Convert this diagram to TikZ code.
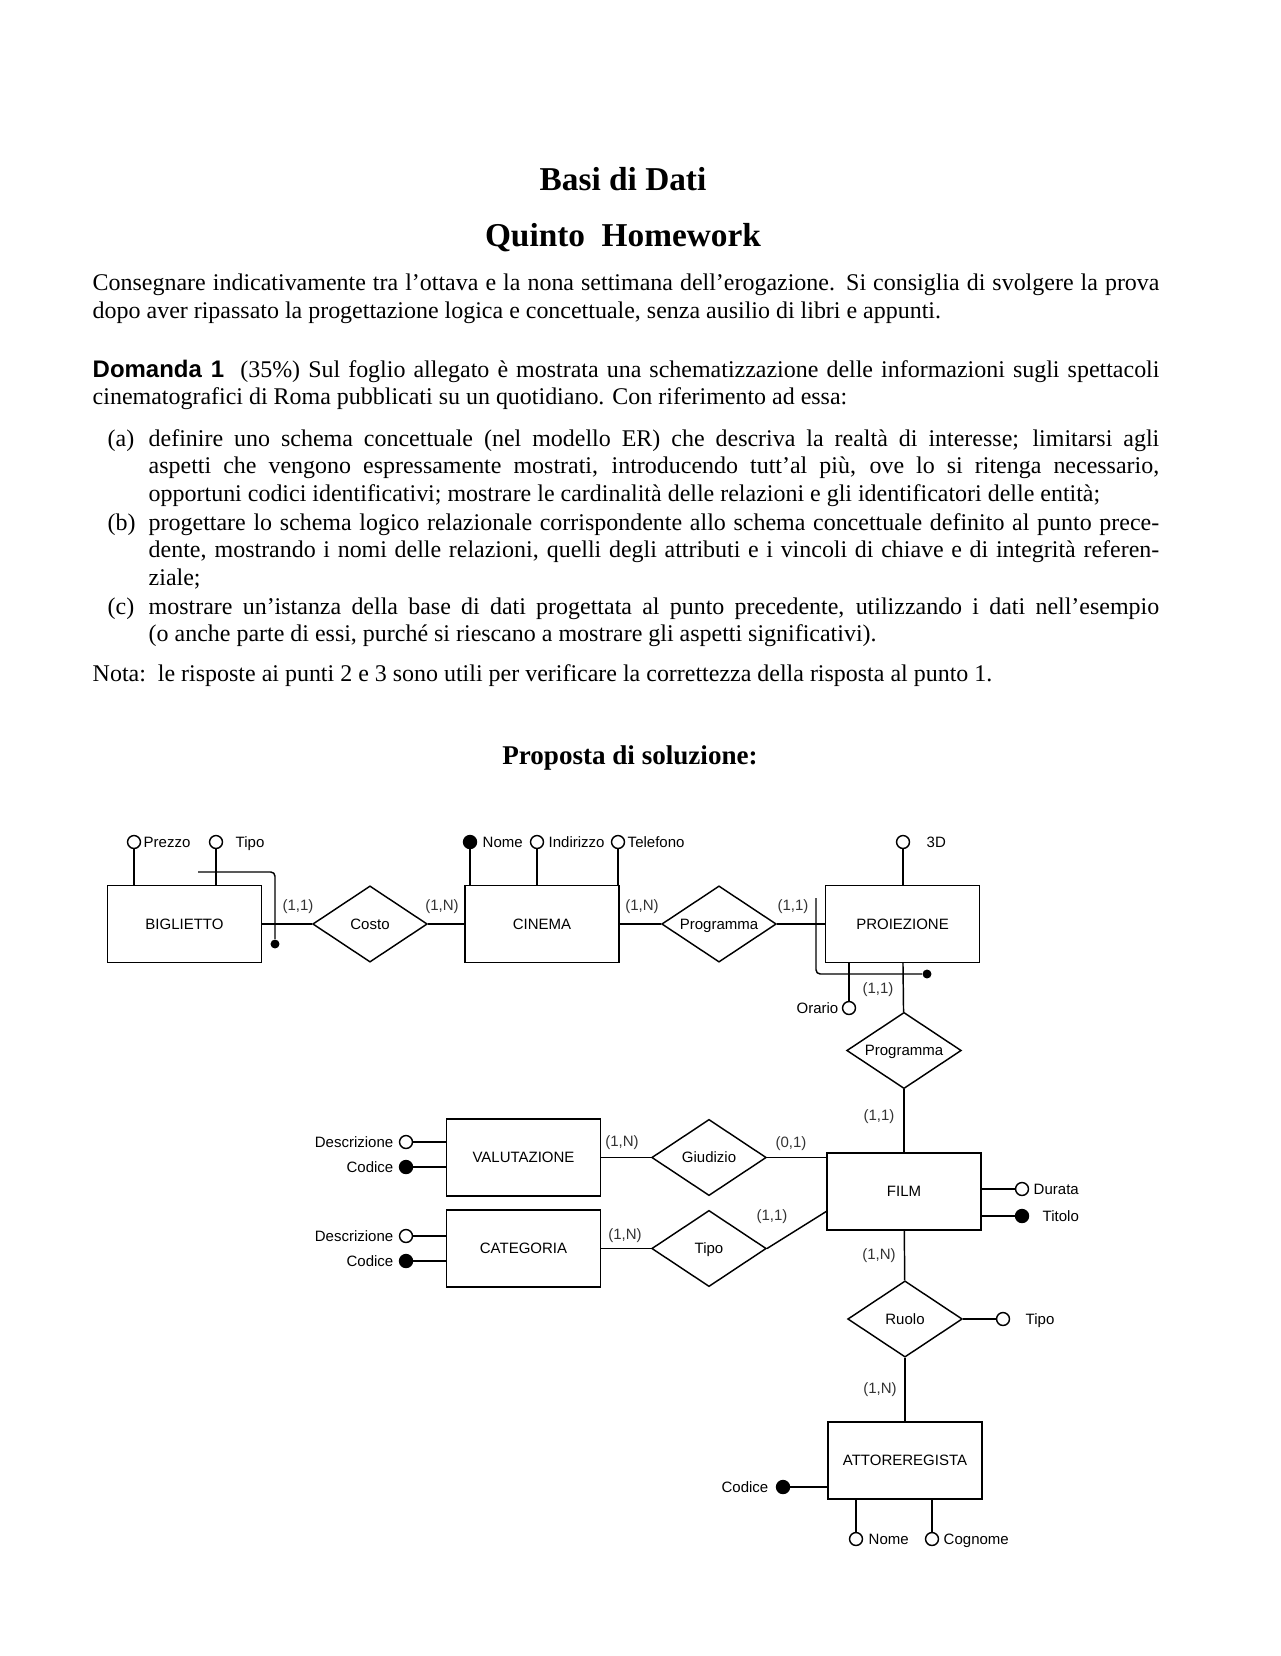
\documentclass[tikz,border=0pt]{standalone}
\usepackage{fontspec}
\setmainfont{Liberation Serif}
\newfontfamily\diagfont{Liberation Sans}
\newfontfamily\domfont{Liberation Sans}
\usetikzlibrary{shapes.geometric,positioning,calc}

\newcommand\diagsize{\diagfont\fontsize{7.2}{8.6}\selectfont}
\newcommand\testo{\fontsize{11.5}{13.25}\selectfont}

\begin{document}
\begin{tikzpicture}[x=0.48pt,y=-0.48pt,line width=0.7pt,
  ent/.style={draw,minimum width=74pt,minimum height=36.8pt,inner sep=0pt,text height=5.2pt,text depth=0pt,font=\diagsize},
  rel/.style={draw,diamond,minimum width=55pt,minimum height=36.6pt,inner sep=0pt,text height=5.2pt,text depth=0pt,font=\diagsize},
  attr/.style={draw,circle,minimum size=6.2pt,inner sep=0pt,fill=white},
  chiave/.style={attr,fill=black},
  iddot/.style={circle,fill=black,minimum size=4.3pt,inner sep=0pt},
  labr/.style={anchor=base west,inner sep=0pt,font=\diagsize},
  labl/.style={anchor=base east,inner sep=0pt,font=\diagsize},
  card/.style={inner sep=0pt,text=black!80,font=\diagsize},
  para/.style={anchor=base west,inner sep=0pt,align=justify,font=\testo}]
\useasboundingbox (0,0) rectangle (1280,1656);

\node (titolo) at (623,191) [anchor=base,font=\fontsize{16}{19}\selectfont\bfseries] {Basi di Dati};
\node (sottotitolo) at (623,247) [anchor=base,font=\fontsize{16}{19}\selectfont\bfseries] {Quinto\ \ Homework};

\node (intro) at (92,291) [para,text width=512pt] {Consegnare indicativamente tra l'ottava e la nona settimana dell'erogazione. Si consiglia di svolgere la prova\linebreak dopo aver ripassato la progettazione logica e concettuale, senza ausilio di libri e appunti.};

\node (domanda) at (92,377) [para,text width=512pt] {{\domfont\bfseries Domanda 1}\ \ (35\%) Sul foglio allegato è mostrata una schematizzazione delle informazioni sugli spettacoli\linebreak cinematografici di Roma pubblicati su un quotidiano. Con riferimento ad essa:};

\node (pa) at (107,446) [para] {(a)};
\node (ta) at (148,446) [para,text width=485pt] {\parfillskip=0pt definire uno schema concettuale (nel modello ER) che descriva la realtà di interesse; limitarsi agli\linebreak aspetti che vengono espressamente mostrati, introducendo tutt'al più, ove lo si ritenga necessario,\linebreak opportuni codici identificativi; mostrare le cardinalità delle relazioni e gli identificatori delle entità;};
\node (pb) at (107,530) [para] {(b)};
\node (tb) at (148,530) [para,text width=485pt] {progettare lo schema logico relazionale corrispondente allo schema concettuale definito al punto prece-\linebreak dente, mostrando i nomi delle relazioni, quelli degli attributi e i vincoli di chiave e di integrità referen-\linebreak ziale;};
\node (pc) at (107,614) [para] {(c)};
\node (tc) at (148,614) [para,text width=485pt] {mostrare un'istanza della base di dati progettata al punto precedente, utilizzando i dati nell'esempio\linebreak (o anche parte di essi, purché si riescano a mostrare gli aspetti significativi).};

\node (nota) at (92,681) [para] {Nota:\ \ le risposte ai punti 2 e 3 sono utili per verificare la correttezza della risposta al punto 1.};

\node (proposta) at (630,764) [anchor=base,font=\fontsize{13}{15}\selectfont\bfseries] {Proposta di soluzione:};

% entita e relazioni
\node[ent] (biglietto) at (184.5,924) {BIGLIETTO};
\node[rel] (costo) at (370,924) {\makebox[0pt]{Costo}};
\node[ent] (cinema) at (542,924) {CINEMA};
\node[rel] (progcin) at (719,924) {\makebox[0pt]{Programma}};
\node[ent] (proiezione) at (902.5,924) {PROIEZIONE};
\node[rel] (progfilm) at (904,1050.5) {\makebox[0pt]{Programma}};
\node[ent] (valutazione) at (523.5,1157.5) {VALUTAZIONE};
\node[rel] (giudizio) at (709,1157.5) {\makebox[0pt]{Giudizio}};
\node[ent] (categoria) at (523.5,1248.5) {CATEGORIA};
\node[rel] (tipo) at (709,1248.5) {\makebox[0pt]{Tipo}};
\node[ent] (film) at (904,1191.5) {FILM};
\node[rel] (ruolo) at (905,1319) {\makebox[0pt]{Ruolo}};
\node[ent] (attore) at (905,1460.5) {ATTOREREGISTA};

\draw[line width=1.1pt] (biglietto) -- (costo);
\draw (costo) -- (cinema);
\draw (cinema) -- (progcin);
\draw (progcin) -- (proiezione);
\draw (proiezione) -- (progfilm);
\draw (progfilm) -- (film);
\draw (valutazione) -- (giudizio);
\draw (giudizio.east) -- (giudizio.east -| film.west);
\draw (categoria) -- (tipo);
\draw (tipo.east) -- ($(film.west)+(0,20)$);
\draw (film) -- (ruolo);
\draw (ruolo) -- (attore);

% attributi
\node[attr] (prezzo) at (134,842) {};
\node[attr] (tipob) at (216,842) {};
\node[chiave] (nome) at (470,842) {};
\node[attr] (indirizzo) at (537,842) {};
\node[attr] (telefono) at (618,842) {};
\node[attr] (tred) at (903,842) {};
\node[attr] (orario) at (849,1008) {};
\node[attr] (descv) at (406,1142) {};
\node[chiave] (codv) at (406,1167) {};
\node[attr] (descc) at (406,1236) {};
\node[chiave] (codc) at (406,1261) {};
\node[attr] (durata) at (1022,1189) {};
\node[chiave] (titolo) at (1022,1216) {};
\node[attr] (tipor) at (1003,1319) {};
\node[chiave] (codicea) at (783,1487) {};
\node[attr] (nomea) at (856,1539) {};
\node[attr] (cognome) at (932,1539) {};

\draw[line width=1.1pt] (prezzo) -- (prezzo |- biglietto.north);
\draw (tipob) -- (tipob |- biglietto.north);
\draw[line width=1.1pt] (nome) -- (nome |- cinema.north);
\draw (indirizzo) -- (indirizzo |- cinema.north);
\draw (telefono) -- (telefono |- cinema.north);
\draw (tred) -- (tred |- proiezione.north);
\draw (orario) -- (orario |- proiezione.south);
\draw[line width=1.1pt] (descv) -- (descv -| valutazione.west);
\draw (codv) -- (codv -| valutazione.west);
\draw (descc) -- (descc -| categoria.west);
\draw (codc) -- (codc -| categoria.west);
\draw (durata) -- (durata -| film.east);
\draw (titolo) -- (titolo -| film.east);
\draw (tipor) -- (ruolo);
\draw (codicea) -- (codicea -| attore.west);
\draw (nomea) -- (nomea |- attore.south);
\draw (cognome) -- (cognome |- attore.south);

\node (tprezzo) at (143,847) [labr] {Prezzo};
\node (ttipob) at (235,847) [labr] {Tipo};
\node (tnome) at (482,847) [labr] {Nome};
\node (tindirizzo) at (548,847) [labr] {Indirizzo};
\node (ttelefono) at (627,847) [labr] {Telefono};
\node (ttred) at (926,847) [labr] {3D};
\node (torario) at (839,1013) [labl] {Orario};
\node (tdescv) at (394,1147) [labl] {Descrizione};
\node (tcodv) at (394,1172) [labl] {Codice};
\node (tdescc) at (394,1241) [labl] {Descrizione};
\node (tcodc) at (394,1266) [labl] {Codice};
\node (tdurata) at (1033,1194) [labr] {Durata};
\node (ttitolo) at (1042,1221) [labr] {Titolo};
\node (ttipor) at (1025,1324) [labr] {Tipo};
\node (tcodicea) at (769,1492) [labl] {Codice};
\node (tnomea) at (868,1544) [labr] {Nome};
\node (tcognome) at (943,1544) [labr] {Cognome};

% identificatori esterni
\coordinate (idb) at (198,872);
\node[iddot] (idbdot) at (275,944) {};
\draw[rounded corners=2pt] (idb) -| (idbdot);
\coordinate (idp) at (816,898);
\node[iddot] (idpdot) at (927,974) {};
\draw[rounded corners=2pt] (idp) |- (idpdot);

% cardinalita
\node[card] (c1) at (298,907) {(1,1)};
\node[card] (c2) at (442,907) {(1,N)};
\node[card] (c3) at (642,907) {(1,N)};
\node[card] (c4) at (793,907) {(1,1)};
\node[card] (c5) at (878,990) {(1,1)};
\node[card] (c6) at (879,1117) {(1,1)};
\node[card] (c7) at (622,1143) {(1,N)};
\node[card] (c8) at (791,1144) {(0,1)};
\node[card] (c9) at (625,1236) {(1,N)};
\node[card] (c10) at (772,1217) {(1,1)};
\node[card] (c11) at (879,1256) {(1,N)};
\node[card] (c12) at (880,1390) {(1,N)};

\end{tikzpicture}
\end{document}
